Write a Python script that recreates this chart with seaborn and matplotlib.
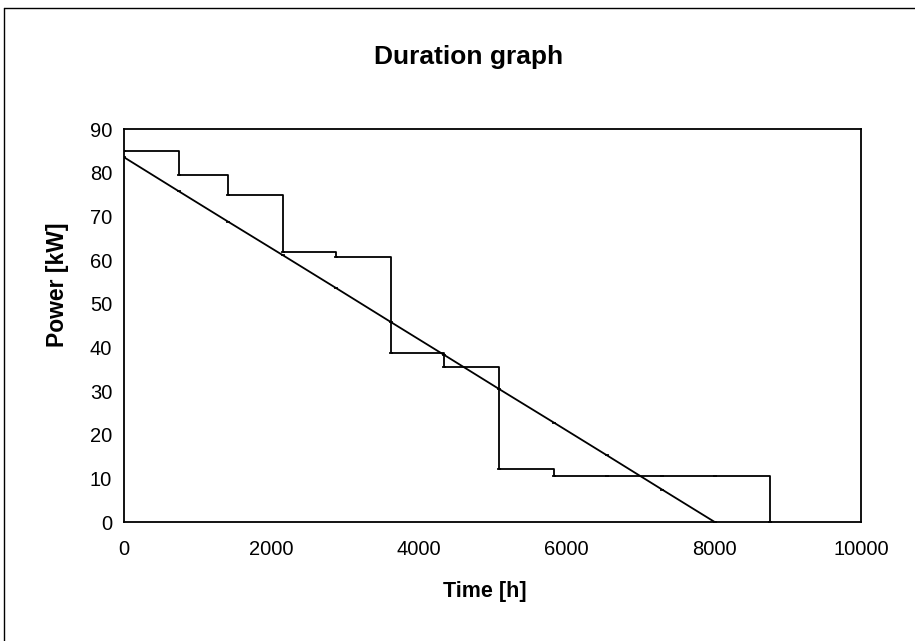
import matplotlib
matplotlib.use("Agg")
import matplotlib.pyplot as plt
import seaborn as sns
import pandas as pd
from matplotlib.lines import Line2D

# month boundaries (hours) and the monthly power steps
hours = [0, 744, 1416, 2160, 2880, 3624, 4344, 5088, 5832, 6552, 7296, 8016, 8760]
power_steps = [85, 79.5, 75, 62, 60.7, 38.7, 35.5, 12.2, 10.7, 10.7, 10.7, 10.7, 0]

# straight duration line, sampled at the same month boundaries
line_hours = [0, 744, 1416, 2160, 2880, 3624, 4344, 5088, 5832, 6552, 7296, 8016]
line_power = [83.6, 75.8, 68.8, 61.1, 53.6, 45.8, 38.3, 30.5, 22.8, 15.3, 7.5, 0]

x_ticks = [0, 2000, 4000, 6000, 8000, 10000]
y_ticks = [0, 10, 20, 30, 40, 50, 60, 70, 80, 90]

steps_df = pd.DataFrame({"time": hours, "power": power_steps})
line_df = pd.DataFrame({"time": line_hours, "power": line_power})

sns.set_style("white")
plt.rcParams["font.family"] = ["Liberation Sans", "DejaVu Sans"]
plt.rcParams["text.color"] = "black"

fig = plt.figure(figsize=(9.15, 6.41), dpi=100)
ax = fig.add_axes([0.1355, 0.1852, 0.806, 0.6131])

mk = dict(marker="_", markersize=3.5, markeredgewidth=1.2,
          markeredgecolor="black", markerfacecolor="black")
sns.lineplot(data=steps_df, x="time", y="power", ax=ax, color="black",
             linewidth=1.3, drawstyle="steps-post", sort=False, **mk)
sns.lineplot(data=line_df, x="time", y="power", ax=ax, color="black",
             linewidth=1.3, sort=False, **mk)

ax.set_xlim(0, 10000)
ax.set_ylim(0, 90)
ax.set_xticks(x_ticks)
ax.set_yticks(y_ticks)
ax.tick_params(direction="inout", length=9, width=1.3, labelsize=14.5,
               colors="black")
ax.tick_params(axis="x", pad=8)
ax.tick_params(axis="y", pad=4)
for s in ax.spines.values():
    s.set_visible(True)
    s.set_color("black")
    s.set_linewidth(1.3)
ax.set_xlabel("")
ax.set_ylabel("")

fig.text(0.512, 0.911, "Duration graph", ha="center", va="center",
         fontsize=19, fontweight="bold", color="black")
fig.text(0.530, 0.078, "Time [h]", ha="center", va="center",
         fontsize=15.5, fontweight="bold", color="black")
fig.text(0.063, 0.555, "Power [kW]", ha="center", va="center",
         fontsize=16.5, fontweight="bold", rotation=90, color="black")

# frame of the chart object (only left and top edges are inside the image)
fig.add_artist(Line2D([0.004, 0.004], [0, 0.988], color="black", linewidth=1.0,
                      transform=fig.transFigure))
fig.add_artist(Line2D([0.004, 1.0], [0.988, 0.988], color="black", linewidth=1.0,
                      transform=fig.transFigure))

fig.savefig("out.png", dpi=100, facecolor="white")
